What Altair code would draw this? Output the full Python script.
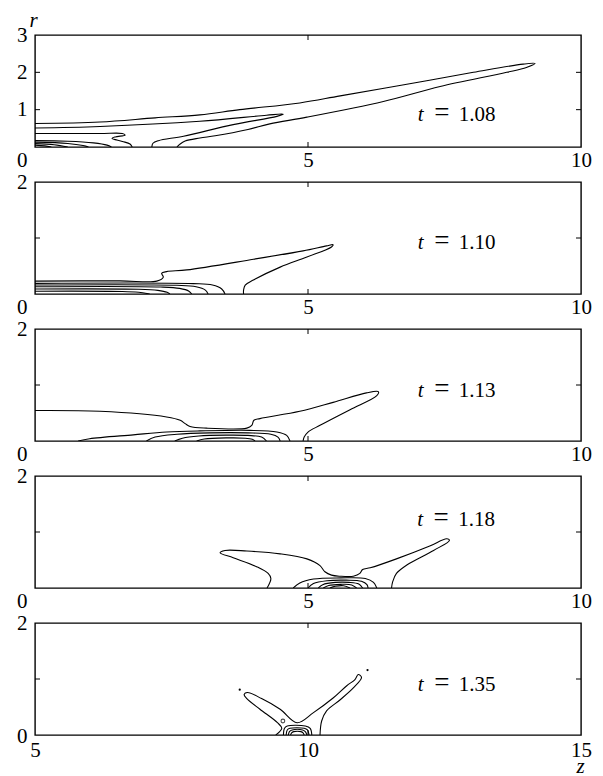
import altair as alt
import pandas as pd

FONT = "Liberation Serif"
W, H = 546, 112

# ---------------- panel 1 (t = 1.08) ----------------
p1_outer = [(0, 0.63), (1.19, 0.67), (2.2, 0.78), (3.02, 0.86), (3.75, 1.0), (4.85, 1.18),
            (5.59, 1.37), (6.81, 1.68), (8.03, 2.0), (8.94, 2.22), (9.16, 2.24),
            (9.0, 2.13), (8.64, 2.0), (7.42, 1.62), (6.38, 1.22), (4.98, 0.8),
            (4.3, 0.62), (3.9, 0.47), (3.3, 0.3), (3.02, 0.24), (2.75, 0.16), (2.65, 0.07), (2.6, 0)]
p1_tongue = [(0, 0.51), (1.19, 0.55), (3.02, 0.69), (4.24, 0.85), (4.55, 0.88), (4.43, 0.82),
             (3.63, 0.6), (2.72, 0.29), (2.26, 0.17), (2.16, 0.1), (2.14, 0)]
p1_s = [(0, 0.36), (1.19, 0.36), (1.6, 0.36), (1.65, 0.32), (1.47, 0.27), (1.41, 0.23),
        (1.6, 0.15), (1.74, 0.08), (1.78, 0)]
p1_i1 = [(0, 0.17), (0.6, 0.155), (1.07, 0.11), (1.32, 0.05), (1.4, 0)]
p1_i2 = [(0, 0.13), (0.6, 0.095), (0.88, 0.04), (0.98, 0)]
p1_i3 = [(0, 0.09), (0.35, 0.06), (0.6, 0)]
p1_i4 = [(0, 0.05), (0.18, 0.03), (0.3, 0)]

# ---------------- panel 2 (t = 1.10) ----------------
p2_outer = [(0, 0.23), (1.56, 0.235), (2.23, 0.23), (2.35, 0.3), (2.32, 0.37), (2.41, 0.40),
            (2.78, 0.43), (4.0, 0.62), (4.91, 0.77), (5.34, 0.86), (5.46, 0.88), (5.43, 0.84),
            (4.98, 0.66), (4.49, 0.48), (4.0, 0.25), (3.85, 0.16), (3.82, 0.07), (3.82, 0)]
p2_i1 = [(0, 0.19), (2.9, 0.185), (3.25, 0.16), (3.42, 0.09), (3.48, 0)]
p2_i2 = [(0, 0.16), (2.6, 0.155), (2.95, 0.13), (3.12, 0.07), (3.17, 0)]
p2_i3 = [(0, 0.13), (2.3, 0.125), (2.65, 0.1), (2.82, 0.05), (2.87, 0)]
p2_i4 = [(0, 0.09), (1.9, 0.085), (2.25, 0.065), (2.42, 0.03), (2.47, 0)]
p2_i5 = [(0, 0.05), (1.6, 0.045), (1.9, 0.03), (2.05, 0.01), (2.1, 0)]

# ---------------- panel 3 (t = 1.13) ----------------
p3_outer = [(0, 0.545), (1.19, 0.53), (2.41, 0.43), (2.66, 0.37), (2.75, 0.31), (2.84, 0.26),
            (3.14, 0.23), (3.88, 0.23), (3.97, 0.28), (4.01, 0.37), (4.12, 0.40), (4.85, 0.53),
            (5.46, 0.69), (6.07, 0.86), (6.29, 0.88), (6.26, 0.81), (5.77, 0.56), (5.22, 0.28),
            (5.0, 0.16), (4.93, 0.07), (4.91, 0)]
p3_i1 = [(0.79, 0), (1.0, 0.04), (1.8, 0.11), (2.41, 0.16), (3.02, 0.18), (3.94, 0.19),
         (4.43, 0.16), (4.61, 0.1), (4.67, 0)]
p3_i2 = [(2.04, 0), (2.2, 0.07), (2.6, 0.12), (3.2, 0.145), (3.9, 0.145), (4.32, 0.12),
         (4.45, 0.07), (4.49, 0)]
p3_i3 = [(2.56, 0), (2.7, 0.05), (3.0, 0.09), (3.5, 0.105), (3.9, 0.1), (4.15, 0.07), (4.24, 0)]
p3_i4 = [(2.96, 0), (3.1, 0.035), (3.5, 0.055), (3.85, 0.05), (3.98, 0.03), (4.03, 0)]

# ---------------- panel 4 (t = 1.18) ----------------
p4_outer = [(4.25, 0), (4.32, 0.17), (4.27, 0.26), (4.06, 0.38), (3.63, 0.54), (3.39, 0.63),
            (3.48, 0.67), (3.88, 0.66), (4.49, 0.61), (4.98, 0.52), (5.22, 0.40), (5.31, 0.29),
            (5.43, 0.23), (5.59, 0.21), (5.83, 0.21), (5.95, 0.26), (6.0, 0.33), (6.14, 0.36),
            (6.62, 0.52), (7.23, 0.75), (7.54, 0.88), (7.59, 0.85), (7.3, 0.67), (6.81, 0.41),
            (6.62, 0.26), (6.55, 0.11), (6.53, 0)]
p4_i1 = [(4.73, 0), (4.85, 0.09), (5.1, 0.16), (5.6, 0.18), (6.05, 0.17), (6.2, 0.1), (6.26, 0)]
p4_i2 = [(5.0, 0), (5.1, 0.08), (5.35, 0.13), (5.7, 0.14), (5.98, 0.12), (6.08, 0.06), (6.1, 0)]
p4_i3 = [(5.19, 0), (5.27, 0.06), (5.5, 0.1), (5.75, 0.1), (5.93, 0.07), (6.0, 0)]
p4_i4 = [(5.28, 0), (5.38, 0.045), (5.6, 0.065), (5.8, 0.055), (5.89, 0)]
p4_i5 = [(5.4, 0), (5.5, 0.03), (5.65, 0.04), (5.77, 0)]

# ---------------- panel 5 (t = 1.35) ----------------
p5_outer = [(9.41, 0), (9.52, 0.12), (9.44, 0.22), (9.12, 0.46), (8.88, 0.65), (8.83, 0.72),
            (8.89, 0.76), (9.15, 0.65), (9.49, 0.46), (9.8, 0.22), (10.1, 0.40), (10.46, 0.66),
            (10.71, 0.88), (10.86, 0.99), (10.92, 1.08), (10.98, 1.03), (10.83, 0.84),
            (10.59, 0.63), (10.34, 0.43), (10.25, 0.25), (10.22, 0)]
p5_i1 = [(9.55, 0), (9.57, 0.12), (9.62, 0.16), (9.95, 0.16), (10.04, 0.12), (10.07, 0)]
p5_i2 = [(9.6, 0), (9.62, 0.09), (9.67, 0.12), (9.93, 0.12), (9.99, 0.09), (10.02, 0)]
p5_i3 = [(9.64, 0), (9.66, 0.06), (9.71, 0.09), (9.9, 0.09), (9.95, 0.06), (9.98, 0)]
p5_i4 = [(9.68, 0), (9.7, 0.04), (9.74, 0.06), (9.87, 0.06), (9.91, 0.04), (9.93, 0)]
p5_dots_z = [8.75, 11.09]
p5_dots_r = [0.81, 1.16]
p5_loop_z = [9.54]
p5_loop_r = [0.25]

panel_contours = [
    [p1_outer, p1_tongue, p1_s, p1_i1, p1_i2, p1_i3, p1_i4],
    [p2_outer, p2_i1, p2_i2, p2_i3, p2_i4, p2_i5],
    [p3_outer, p3_i1, p3_i2, p3_i3, p3_i4],
    [p4_outer, p4_i1, p4_i2, p4_i3, p4_i4, p4_i5],
    [p5_outer, p5_i1, p5_i2, p5_i3, p5_i4],
]
t_labels = ["1.08", "1.10", "1.13", "1.18", "1.35"]
t_z = [7.01, 7.01, 7.01, 7.0, 12.01]
t_r = [0.69, 0.80, 0.78, 1.11, 0.78]
x_domains = [[0, 10], [0, 10], [0, 10], [0, 10], [5, 15]]
y_domains = [[0, 3], [0, 2], [0, 2], [0, 2], [0, 2]]
x_label_vals = [[5, 10], [5, 10], [5, 10], [5, 10], [5, 10, 15]]
y_label_vals = [[0, 1, 2, 3], [0, 1, 2], [0, 1, 2], [0, 1, 2], [0, 1, 2]]
x_tick_vals = [[5], [5], [5], [5], [10]]
y_tick_vals = [[1, 2], [1], [1], [1], [1]]


def panel(k):
    last = k == 4
    first = k == 0
    rows = []
    for ci, pts in enumerate(panel_contours[k]):
        for i, (z, r) in enumerate(pts):
            rows.append({"z": z, "r": r, "c": ci, "i": i})
    df = pd.DataFrame(rows)

    xaxis = alt.Axis(values=x_label_vals[k], format="d", ticks=False, domain=False, grid=False,
                     labelPadding=4 if last else 2, labelFont=FONT, labelFontSize=21,
                     labelColor="black", labelFlush=False,
                     titleFont=FONT, titleFontSize=21, titleFontStyle="italic",
                     titleFontWeight="normal", titleColor="black",
                     titleX=545, titleY=37, titleAlign="center", titleBaseline="alphabetic")
    yaxis = alt.Axis(values=y_label_vals[k], format="d", ticks=False, domain=False, grid=False,
                     labelPadding=8, labelFont=FONT, labelFontSize=21, labelColor="black",
                     labelFlush=False,
                     labelOffset={"condition": {"test": "datum.value === 0",
                                                "value": 1 if last else 13}, "value": 0},
                     titleFont=FONT, titleFontSize=21, titleFontStyle="italic",
                     titleFontWeight="normal", titleColor="black", titleAngle=0,
                     titleX=-2, titleY=-9, titleAlign="center", titleBaseline="alphabetic")
    xs = alt.Scale(domain=x_domains[k], nice=False, zero=False)
    ys = alt.Scale(domain=y_domains[k], nice=False, zero=False)

    def X(f):
        return alt.X(f + ":Q", scale=xs, axis=xaxis, title="z" if last else None)

    def Y(f):
        return alt.Y(f + ":Q", scale=ys, axis=yaxis, title="r" if first else None)

    lines = alt.Chart(df).mark_line(color="black", strokeWidth=1.1,
                                    interpolate="catmull-rom", clip=True).encode(
        x=X("z"), y=Y("r"), detail="c:N", order="i:Q")

    xt = pd.DataFrame({"v": x_tick_vals[k]})
    yt = pd.DataFrame({"v": y_tick_vals[k]})
    rule = dict(color="black", strokeWidth=1)
    xtop = alt.Chart(xt).mark_rule(**rule).encode(x=X("v"), y=alt.value(0), y2=alt.value(5))
    xbot = alt.Chart(xt).mark_rule(**rule).encode(x=X("v"), y=alt.value(H), y2=alt.value(H - 5))
    ylef = alt.Chart(yt).mark_rule(**rule).encode(y=Y("v"), x=alt.value(0), x2=alt.value(5))
    yrig = alt.Chart(yt).mark_rule(**rule).encode(y=Y("v"), x=alt.value(W), x2=alt.value(W - 5))

    tdf = pd.DataFrame({"z": [t_z[k]], "r": [t_r[k]], "s": ["t"], "e": ["="], "n": [t_labels[k]]})
    tstyle = dict(font=FONT, color="black", baseline="alphabetic")
    t1 = alt.Chart(tdf).mark_text(align="left", fontStyle="italic", fontSize=21, **tstyle).encode(
        x=X("z"), y=Y("r"), text="s:N")
    t2 = alt.Chart(tdf).mark_text(align="center", dx=24, fontSize=27, **tstyle).encode(
        x=X("z"), y=Y("r"), text="e:N")
    t3 = alt.Chart(tdf).mark_text(align="left", dx=41, fontSize=21, **tstyle).encode(
        x=X("z"), y=Y("r"), text="n:N")

    layers = [lines, xtop, xbot, ylef, yrig, t1, t2, t3]
    if last:
        dots = pd.DataFrame({"z": p5_dots_z, "r": p5_dots_r})
        loop = pd.DataFrame({"z": p5_loop_z, "r": p5_loop_r})
        layers.append(alt.Chart(dots).mark_circle(color="black", size=5, opacity=1).encode(
            x=X("z"), y=Y("r")))
        layers.append(alt.Chart(loop).mark_point(color="black", size=14, filled=False,
                                                 strokeWidth=1.1).encode(x=X("z"), y=Y("r")))
    return alt.layer(*layers).properties(width=W, height=H)


chart = alt.vconcat(*[panel(k) for k in range(5)], spacing=35, bounds="flush").properties(
    padding={"left": 7, "top": 0, "right": 0, "bottom": 0}
).configure_view(stroke="black", strokeWidth=1.4)

chart.save("out.html", embed_options={"renderer": "svg", "actions": False})
